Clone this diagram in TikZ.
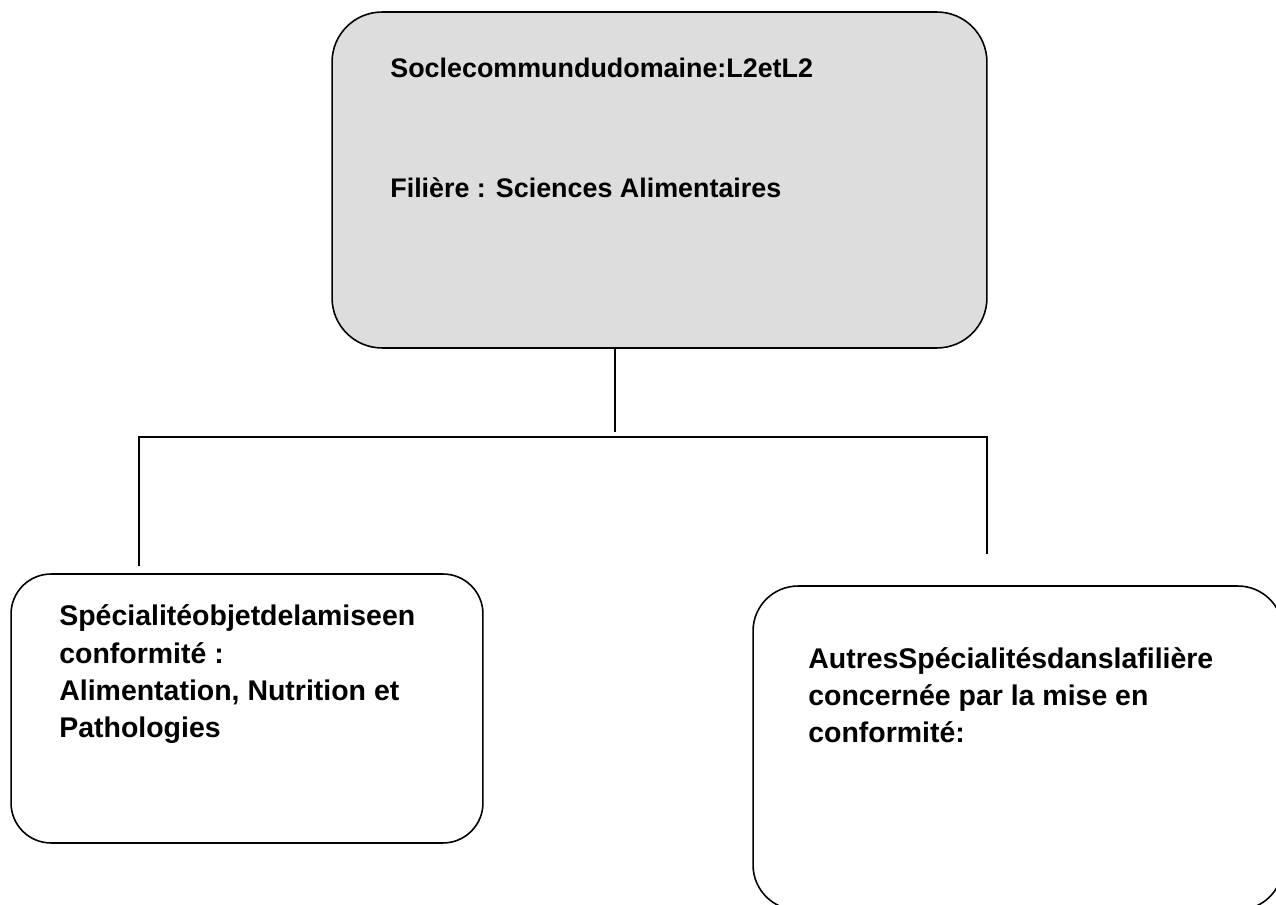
\documentclass[tikz,border=0pt]{standalone}
\usepackage{fontspec}
\setmainfont{Liberation Sans}
\usetikzlibrary{positioning}
\definecolor{socgray}{RGB}{221,221,221}

\begin{document}
\begin{tikzpicture}[x=0.02cm,y=-0.02cm,
		box/.style={draw=black,line width=0.9pt,rectangle,inner sep=0pt},
		lbl/.style={inner sep=0pt,anchor=base west,align=left,font=\bfseries\fontsize{16.2}{21.3}\selectfont},
		toplbl/.style={lbl,font=\bfseries\fontsize{15.3}{19}\selectfont},
		conn/.style={draw=black,line width=1.1pt}]
			\clip (0,0) rectangle (1276,905);
			\fill[white] (0,0) rectangle (1276,905);
			% boxes
			\node[box,fill=socgray,rounded corners=1cm,minimum width=13.1cm,minimum height=6.72cm] (soc) at (659.5,180) {};
			\node[box,rounded corners=0.8cm,minimum width=9.44cm,minimum height=5.38cm] (spec) at (247,708.5) {};
			\node[box,rounded corners=0.9cm,minimum width=10.6cm,minimum height=6.48cm] (autres) at (1018,748) {};
			% texts (base = last line)
			\node[toplbl] (socA) at (390,78) {Soclecommundudomaine:L2etL2};
			\node[toplbl] (socB) at (390,198) {Filière : Sciences Alimentaires};
			\node[lbl] (specT) at (59,738) {Spécialitéobjetdelamiseen\\conformité :\\Alimentation, Nutrition et\\Pathologies};
			\node[lbl] (autresT) at (808,743) {AutresSpécialitésdanslafilière\\concernée par la mise en\\conformité:};
			% connectors
			\coordinate (j) at (615,432);
			\coordinate (bl) at (139,437);
			\coordinate (br) at (987,437);
			\coordinate (sl) at (139,566);
			\coordinate (sr) at (987,554);
			\draw[conn] (soc.south -| j) -- (j);
			\draw[conn] (sl) -- (bl) -- (br) -- (sr);
		\end{tikzpicture}
\end{document}
